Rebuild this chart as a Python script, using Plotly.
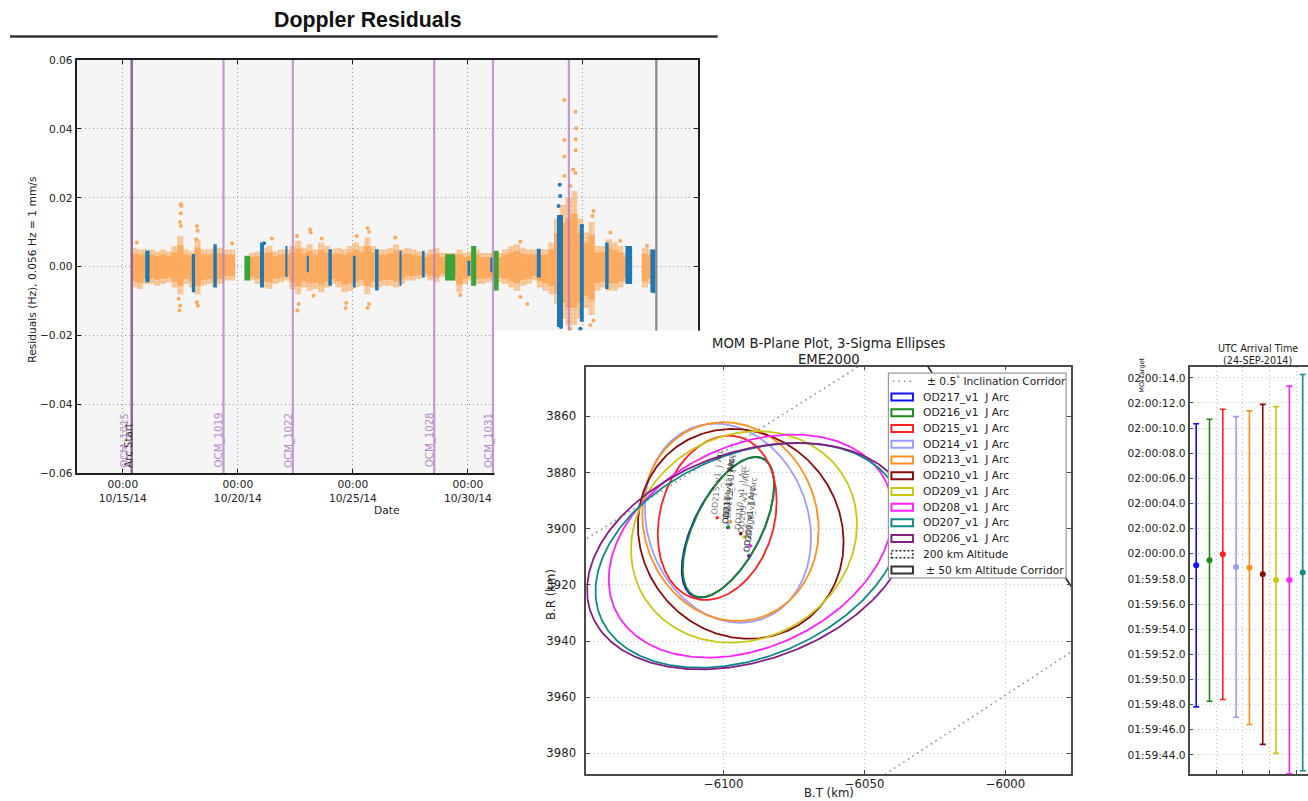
import numpy as np
import pandas as pd
import plotly.graph_objects as go

# Figure canvas and the layout grid used for every position below.
FIG_W, FIG_H = 1334, 807
GRID_SX, GRID_SY, GRID_OY = 0.981, 0.985, 6.0
FONT = "DejaVu Sans"


def fx(X):
    """Layout-grid x (px) -> paper fraction."""
    return X / GRID_SX / FIG_W


def fy(Y):
    """Layout-grid y (px, from the top) -> paper fraction."""
    return 1 - (Y - GRID_OY) / GRID_SY / FIG_H


def fs(size):
    """Font size on the layout grid -> figure font size."""
    return size / 0.983


# ====================== Doppler residuals ======================
EPOCH = pd.Timestamp("2014-10-13")
DAY_MS = 86400000

# Continuous tracking cloud: column centre (days after EPOCH), upper / lower extent (mHz)
orange_day = [2.50, 2.75, 3.00, 3.25, 3.50, 3.75, 4.00, 4.25, 4.50, 4.75, 5.00, 5.25,
              5.50, 5.75, 6.00, 6.25, 6.50, 6.75,
              7.625, 7.875, 8.125, 8.375, 8.625, 8.875, 9.125, 9.375, 9.625, 9.875,
              10.125, 10.375, 10.625, 10.875, 11.125, 11.375, 11.625, 11.875, 12.125,
              12.375, 12.625, 12.875, 13.125, 13.375, 13.625, 13.875, 14.125, 14.375,
              14.625, 14.875, 15.125, 15.375, 15.625, 15.875, 16.125, 16.375, 16.625,
              16.875, 17.125, 17.375, 17.625, 17.875, 18.125, 18.375, 18.625, 18.875,
              19.125, 19.375, 19.625, 19.875, 20.125, 20.375, 20.625, 20.875, 21.125,
              21.375, 21.625, 21.875, 22.125, 22.375, 22.625, 22.875, 23.125, 23.375,
              23.625, 23.875, 24.0, 24.69, 24.94]
orange_hi = [5.5, 5.0, 5.0, 5.0, 4.5, 5.0, 4.5, 6.0, 9.0, 5.0, 4.5, 8.0,
             5.0, 5.0, 5.5, 5.5, 5.0, 5.0,
             4.0, 4.5, 5.5, 6.0, 4.5, 5.0, 5.0, 6.0, 7.5, 5.5,
             6.5, 5.0, 7.0, 6.0, 5.0, 5.5, 5.0, 6.0, 7.0,
             6.0, 8.5, 6.0, 5.0, 5.0, 5.5, 6.5, 5.0, 5.5,
             5.0, 4.5, 4.0, 5.0, 5.5, 4.0, 4.0, 4.0, 5.0,
             4.0, 4.5, 5.0, 4.0, 4.0, 4.0, 4.0, 5.0, 6.0,
             6.5, 5.5, 5.0, 5.0, 5.0, 5.0, 7.0, 14.0, 18.0,
             20.0, 22.0, 14.0, 10.0, 13.0, 6.0, 6.0, 8.0, 7.0,
             6.0, 4.0, 4.0, 5.5, 5.0]
orange_lo = [-6.0, -6.5, -5.0, -5.0, -5.5, -5.0, -4.5, -6.0, -8.0, -5.0, -6.0, -8.0,
             -5.5, -5.0, -6.0, -5.0, -4.0, -4.0,
             -4.0, -5.0, -6.0, -6.5, -5.0, -4.5, -4.0, -6.5, -8.0, -6.0,
             -7.0, -6.5, -7.5, -6.0, -5.0, -6.0, -7.5, -7.0, -6.0,
             -5.5, -8.0, -6.0, -6.0, -5.5, -5.5, -6.0, -5.0, -4.0,
             -4.0, -3.5, -3.0, -4.0, -4.5, -3.0, -4.0, -4.0, -7.5,
             -5.0, -4.0, -5.0, -5.0, -4.5, -4.0, -4.5, -5.0, -6.0,
             -7.0, -5.5, -5.0, -4.0, -6.0, -7.0, -8.0, -11.0, -15.0,
             -17.0, -17.0, -15.0, -12.0, -14.0, -7.0, -6.0, -7.0, -7.0,
             -6.0, -4.5, -4.0, -6.0, -5.0]
ORANGE_COL = 0.25   # column spacing, days
CORE_FRAC = 0.7     # share of each column's spread drawn as the dense core

# Individual passes (blue / green): centre day, duration (days), upper / lower extent (mHz)
blue_day = [3.07, 5.07, 6.01, 8.05, 9.11, 10.04, 11.01, 12.06, 13.04, 14.07, 15.06,
            17.04, 18.03, 20.08, 21.00, 21.95, 23.04, 23.99, 25.04]
blue_dur = [0.19, 0.14, 0.15, 0.17, 0.09, 0.09, 0.15, 0.12, 0.15, 0.09, 0.12,
            0.12, 0.12, 0.17, 0.26, 0.17, 0.15, 0.29, 0.22]
blue_hi = [4.6, 3.7, 6.5, 7.0, 6.0, 3.2, 5.1, 3.2, 5.1, 4.6, 4.6,
           1.7, 2.7, 5.2, 15.0, 12.3, 7.0, 6.0, 5.0]
blue_lo = [-4.5, -7.4, -6.0, -6.0, -3.0, -1.6, -5.5, -6.0, -6.9, -5.5, -3.1,
           -2.6, -1.6, -3.1, -17.5, -16.0, -6.5, -5.0, -7.5]

green_day = [7.41, 16.23, 17.25, 18.23]
green_dur = [0.25, 0.44, 0.22, 0.21]
green_hi = [3.2, 3.6, 6.0, 4.6]
green_lo = [-4.0, -4.0, -5.5, -6.9]

# Isolated residual points (day, mHz)
orange_pt_day = [4.52, 4.55, 4.52, 4.49, 4.52, 4.46, 4.49, 4.43, 5.22, 5.25, 5.19, 5.26,
                 5.22, 2.61, 6.75, 9.57, 9.59, 9.64, 10.14, 10.17, 10.65, 10.29, 11.68,
                 11.71, 12.17, 12.64, 12.70, 12.64, 12.70, 13.84, 16.67, 8.48,
                 21.19, 21.68, 21.71, 21.19, 21.68, 21.19, 21.68, 21.57, 21.67, 21.19,
                 21.45, 22.46, 22.41, 22.32, 22.46, 21.45, 23.19, 23.62, 19.28, 19.28,
                 19.58, 24.78]
orange_pt_val = [18.1, 17.6, 15.5, 13.0, 11.8, -12.7, -11.3, -9.3, 11.8, 10.4, 8.0, -11.3,
                 -10.3, 7.0, 6.8, 8.9, -12.7, -10.8, 10.9, 9.9, 8.2, -8.4, -12.0,
                 -10.5, 8.9, 11.2, 10.1, -12.0, -10.8, 8.5, -8.2, 8.2,
                 48.4, 45.0, 40.2, 36.8, 37.0, 32.0, 33.8, 28.2, 27.2, 26.3,
                 23.4, 16.2, 14.7, -17.0, -15.6, -18.0, 9.9, 7.5, 7.3, -8.8,
                 -10.8, 6.1]
blue_pt_day = [20.99, 21.01, 20.94, 21.96, 21.04, 21.88, 25.07, 8.14]
blue_pt_val = [23.8, 20.5, 17.6, 11.8, -17.5, -18.0, -7.1, 6.8]

# Events marked on the residual plot
event_time = ["2014-10-15 09:20", "2014-10-15 09:20", "2014-10-19 09:00",
              "2014-10-22 09:20", "2014-10-28 12:50", "2014-10-31 02:05",
              "2014-11-03 09:20", "2014-11-07 04:30"]
event_label = ["Arc Start", "OCM_1015", "OCM_1019", "OCM_1022", "OCM_1028",
               "OCM_1031", "", ""]
event_kind = ["arc", "ocm", "ocm", "ocm", "ocm", "ocm", "ocm", "end"]

ORANGE = "#FBAA5E"
BLUE = "#1F77B4"
GREEN = "#3AA339"
OCM_COLOR = "rgba(180,120,200,0.75)"
OCM_TEXT = "#B88ACB"


def day_iso(days):
    return [(EPOCH + pd.Timedelta(days=float(d))).strftime("%Y-%m-%d %H:%M:%S") for d in days]


fig = go.Figure()


def add_band(day, dur, hi, lo, color, frac=1.0, marker_extra=None):
    marker = dict(color=color, line=dict(width=0))
    if marker_extra:
        marker.update(marker_extra)
    fig.add_trace(go.Bar(
        x=day_iso(day), base=[frac * v / 1000 for v in lo],
        y=[frac * (h - l) / 1000 for h, l in zip(hi, lo)],
        width=[d * DAY_MS for d in dur], marker=marker,
        xaxis="x", yaxis="y", hoverinfo="skip", showlegend=False))


col_w = [ORANGE_COL * 1.06] * len(orange_day)
# sparse outer part of the cloud (speckled), then the dense core
add_band(orange_day, col_w, orange_hi, orange_lo, "rgba(251,170,94,0.45)",
         marker_extra=dict(pattern=dict(shape=".", fgcolor=ORANGE, size=4, solidity=0.55,
                                        fillmode="overlay")))
add_band(orange_day, col_w, orange_hi, orange_lo, ORANGE, frac=CORE_FRAC)
fig.add_trace(go.Scatter(x=day_iso(orange_pt_day), y=[v / 1000 for v in orange_pt_val],
                         mode="markers", marker=dict(color=ORANGE, size=4),
                         xaxis="x", yaxis="y", hoverinfo="skip", showlegend=False))
add_band(green_day, green_dur, green_hi, green_lo, GREEN)
add_band(blue_day, blue_dur, blue_hi, blue_lo, BLUE)
fig.add_trace(go.Scatter(x=day_iso(blue_pt_day), y=[v / 1000 for v in blue_pt_val],
                         mode="markers", marker=dict(color=BLUE, size=4),
                         xaxis="x", yaxis="y", hoverinfo="skip", showlegend=False))

line_style = {"arc": dict(color="#2A2A2A", width=2),
              "ocm": dict(color=OCM_COLOR, width=2.2),
              "end": dict(color="#8A8A8A", width=2.2)}
for t, kind in zip(event_time, event_kind):
    fig.add_trace(go.Scatter(x=[t, t], y=[-0.06, 0.06], mode="lines", line=line_style[kind],
                             xaxis="x", yaxis="y", hoverinfo="skip", showlegend=False))

annotations = []
label_shift = {"Arc Start": -3, "OCM_1015": -7}
for t, lab, kind in zip(event_time, event_label, event_kind):
    if not lab:
        continue
    annotations.append(dict(
        x=t, y=-0.06, xref="x", yref="y", text=lab, showarrow=False, textangle=-90,
        xanchor="center", yanchor="bottom", xshift=label_shift.get(lab, -4), yshift=4,
        font=dict(family=FONT, size=fs(10), color="#222" if kind == "arc" else OCM_TEXT)))

# ====================== B-plane ellipses ======================
od_names = ["OD217_v1", "OD216_v1", "OD215_v1", "OD214_v1", "OD213_v1",
            "OD210_v1", "OD209_v1", "OD208_v1", "OD207_v1", "OD206_v1"]
od_colors = ["#1010FF", "#1A8A1A", "#FF2020", "#9C9CFF", "#FF8F1F",
             "#8B0A0A", "#C8C814", "#FF20FF", "#0E8A8A", "#841E84"]
center_bt = [-6098.5, -6098.3, -6102.3, -6098.5, -6097.6, -6093.95, -6092.8, -6090.4, -6091.0, -6091.0]
center_br = [3899.55, 3899.4, 3896.15, 3898.05, 3897.5, 3901.85, 3902.95, 3906.2, 3909.5, 3909.8]
half_bt = [16.4, 16.2, 21.1, 29.5, 31.3, 36.5, 40.1, 50.4, 54.5, 57.5]     # 3-sigma extent along B.T
half_br = [25.05, 25.0, 29.25, 35.45, 35.4, 37.35, 37.65, 39.7, 40.0, 40.3]  # 3-sigma extent along B.R
corr_bt_br = [-0.60, -0.60, -0.20, 0.15, 0.08, 0.08, -0.12, -0.30, -0.32, -0.30]

corridor_deg = [32.41, 33.42]          # +/- 0.5 deg inclination corridor lines through the origin
corridor_bt = [-6170.0, -5950.0]
alt_radius = [7048.0, 7098.0, 7148.0]  # lower corridor, 200 km altitude, upper corridor (km)
alt_dash = ["solid", "2px,3px", "solid"]
DOTTED = "1.5px,4px"

for ang in corridor_deg:
    fig.add_trace(go.Scatter(
        x=corridor_bt, y=[-np.tan(np.radians(ang)) * b for b in corridor_bt],
        mode="lines", line=dict(color="#8C8C8C", width=1.6, dash=DOTTED),
        xaxis="x3", yaxis="y3", hoverinfo="skip", showlegend=False))

arc_theta = np.radians(np.linspace(29.0, 37.0, 400))
for r, dash in zip(alt_radius, alt_dash):
    fig.add_trace(go.Scatter(
        x=-r * np.cos(arc_theta), y=r * np.sin(arc_theta), mode="lines",
        line=dict(color="#222", width=1.6, dash=dash),
        xaxis="x3", yaxis="y3", hoverinfo="skip", showlegend=False))

tt = np.linspace(0, 2 * np.pi, 361)
for cx, cy, hx, hy, rho, col in zip(center_bt, center_br, half_bt, half_br, corr_bt_br, od_colors):
    ex = cx + hx * np.cos(tt)
    ey = cy + hy * (rho * np.cos(tt) + np.sqrt(1 - rho ** 2) * np.sin(tt))
    fig.add_trace(go.Scatter(x=ex, y=ey, mode="lines", line=dict(color=col, width=1.8),
                             xaxis="x3", yaxis="y3", hoverinfo="skip", showlegend=False))

fig.add_trace(go.Scatter(x=center_bt, y=center_br, mode="markers",
                         marker=dict(color=od_colors, size=3.5),
                         xaxis="x3", yaxis="y3", hoverinfo="skip", showlegend=False))
for name, cx, cy in zip(od_names, center_bt, center_br):
    annotations.append(dict(
        x=cx, y=cy, xref="x3", yref="y3", text=name + "\u00a0 J Arc", showarrow=False,
        textangle=-85, xanchor="center", yanchor="bottom", yshift=1,
        font=dict(family=FONT, size=fs(8), color="rgba(30,30,30,0.65)")))

# ====================== UTC arrival time ======================
arrival_offset_s = [-0.92, -0.52, -0.05, -1.05, -1.11, -1.64, -2.09, -2.09, -1.50]  # vs 02:00:00
arrival_sigma_s = [11.27, 11.22, 11.55, 11.96, 12.48, 13.53, 13.80, 15.43, 15.77]
utc_tick_s = list(range(-16, 15, 2))


def hms(sec):
    total = 7200 + sec
    h = int(total // 3600)
    m = int((total - 3600 * h) // 60)
    s = total - 3600 * h - 60 * m
    return f"{h:02d}:{m:02d}:{s:04.1f}"


for i, (off, sig) in enumerate(zip(arrival_offset_s, arrival_sigma_s)):
    col = od_colors[i]
    fig.add_trace(go.Scatter(
        x=[i + 1], y=[off], mode="markers", marker=dict(color=col, size=6),
        error_y=dict(type="data", array=[sig], symmetric=True, color=col, thickness=1.6, width=3),
        xaxis="x4", yaxis="y4", hoverinfo="skip", showlegend=False))

# invisible anchor for the panel that frames the B-plane figure
fig.add_trace(go.Scatter(x=[0.5], y=[0.5], mode="markers", marker=dict(opacity=0),
                         xaxis="x2", yaxis="y2", hoverinfo="skip", showlegend=False))


# ====================== text ======================
def txt(x, y, s, size, color="#222", angle=0, xanchor="center", family=FONT):
    annotations.append(dict(x=fx(x), y=fy(y), xref="paper", yref="paper", text=s,
                            showarrow=False, textangle=angle, xanchor=xanchor,
                            yanchor="middle", font=dict(family=family, size=fs(size), color=color)))


txt(368, 20, "<b>Doppler Residuals</b>", 21, "#111", family="Liberation Sans")
txt(33, 270, "Residuals (Hz), 0.056 Hz = 1 mm/s", 10.5, angle=-90)
txt(387, 511.5, "Date", 10.5)
txt(828.5, 344, "MOM B-Plane Plot, 3-Sigma Ellipses", 13)
txt(828.5, 359.5, "EME2000", 13)
txt(828.5, 794, "B.T (km)", 11.5)
txt(551, 595, "B.R (km)", 11.5, angle=-90)
txt(1256.5, 348.5, "UTC Arrival Time", 9.5)
txt(1256.5, 360.5, "(24-SEP-2014)", 9.5)
txt(1140, 376, "MOI target", 6.5, angle=-90)

# B-plane legend
legend_labels = ["\u00b1 0.5<sup>\u00b0</sup> Inclination Corridor"] + \
                [n + "\u00a0 J Arc" for n in od_names] + \
                ["200 km Altitude", "\u00b1 50 km Altitude Corridor"]
shapes = [
    dict(type="line", xref="paper", yref="paper", x0=fx(10), x1=fx(717), y0=fy(36.5), y1=fy(36.5),
         line=dict(color="#333", width=2.5)),
    dict(type="rect", xref="x", yref="y", x0="2014-10-13", x1="2014-11-09", y0=-0.06, y1=0.06,
         layer="below", fillcolor="#F5F5F5", line=dict(width=0)),
    dict(type="rect", xref="paper", yref="paper", x0=fx(887.5), x1=fx(1065), y0=fy(373.5), y1=fy(578.5),
         fillcolor="white", line=dict(color="#999", width=1.2), layer="above"),
]
for k, lab in enumerate(legend_labels):
    yc = 381.7 + 15.75 * k
    if k == 0:
        shapes.append(dict(type="line", xref="paper", yref="paper", x0=fx(892), x1=fx(912),
                           y0=fy(yc), y1=fy(yc), line=dict(color="#8C8C8C", width=1.6, dash=DOTTED)))
        xt = 924
    else:
        if k <= len(od_names):
            ln = dict(color=od_colors[k - 1], width=2)
        elif k == len(od_names) + 1:
            ln = dict(color="#222", width=1.5, dash="2px,2px")
        else:
            ln = dict(color="#333", width=2)
        shapes.append(dict(type="rect", xref="paper", yref="paper", x0=fx(890.5), x1=fx(912),
                           y0=fy(yc + 3.5), y1=fy(yc - 3.5), line=ln, layer="above"))
        xt = 923 if k == len(legend_labels) - 1 else 920
    txt(xt, yc, lab, 10.5, "#222", xanchor="left")

# ====================== axes ======================
GRID_DASH = "1px,3px"
grid = dict(showgrid=True, gridcolor="#9A9A9A", griddash=GRID_DASH, gridwidth=1, zeroline=False)
frame = dict(showline=True, ticks="inside", ticklen=4)

fig.update_layout(
    width=FIG_W, height=FIG_H, autosize=False, margin=dict(l=0, r=0, t=0, b=0, pad=0),
    paper_bgcolor="white", plot_bgcolor="white", showlegend=False,
    barmode="overlay", hovermode=False, font=dict(family=FONT, color="#222"),
    annotations=annotations, shapes=shapes,
    xaxis=dict(domain=[fx(76.7), fx(697.3)], anchor="y", type="date",
               range=["2014-10-13", "2014-11-09"], tick0="2014-10-15", dtick=5 * DAY_MS,
               tickformat="%H:%M<br>%m/%d/%y", tickfont=dict(size=fs(10.5)),
               linecolor="#1E1E1E", linewidth=2, mirror="ticks", tickcolor="#1E1E1E",
               **grid, **frame),
    yaxis=dict(domain=[fy(474), fy(60)], anchor="x", range=[-0.06, 0.06], dtick=0.02,
               tickformat=".2f", tickfont=dict(size=fs(10.5)),
               linecolor="#1E1E1E", linewidth=2, mirror="ticks", tickcolor="#1E1E1E",
               **grid, **frame),
    xaxis2=dict(domain=[fx(494), fx(720)], anchor="y2", range=[0, 1], visible=False),
    yaxis2=dict(domain=[0, fy(331)], anchor="x2", range=[0, 1], visible=False),
    xaxis3=dict(domain=[fx(585.6), fx(1070)], anchor="y3", range=[-6148.8, -5976.7],
                tickvals=[-6100, -6050, -6000], tickfont=dict(size=fs(11.5)),
                linecolor="#4A4A4A", linewidth=1.5, mirror="ticks", tickcolor="#4A4A4A",
                gridcolor="#C4C4C4", showgrid=True, griddash=GRID_DASH, zeroline=False,
                ticklabelstandoff=-2, **frame),
    yaxis3=dict(domain=[fy(775), fy(367)], anchor="x3", range=[3987.4, 3842.3],
                tickvals=list(range(3860, 3981, 20)), tickfont=dict(size=fs(11.5)),
                linecolor="#4A4A4A", linewidth=1.5, mirror="ticks", tickcolor="#4A4A4A",
                gridcolor="#C4C4C4", showgrid=True, griddash=GRID_DASH, zeroline=False,
                ticklabelstandoff=6, **frame),
    xaxis4=dict(domain=[fx(1188.3), min(1.0, fx(1308))], anchor="y4", range=[0.5, 9.5],
                tickvals=[2.5, 4.5, 6.5, 8.5], showticklabels=False,
                linecolor="#4A4A4A", linewidth=1.5, mirror=True, tickcolor="#4A4A4A",
                gridcolor="#C4C4C4", showgrid=True, griddash=GRID_DASH, zeroline=False, **frame),
    yaxis4=dict(domain=[fy(775), fy(367.3)], anchor="x4", range=[-17.54, 14.87],
                tickvals=utc_tick_s, ticktext=[hms(s) for s in utc_tick_s],
                tickfont=dict(size=fs(10.5)), linecolor="#4A4A4A", linewidth=1.5,
                tickcolor="#4A4A4A", gridcolor="#C4C4C4", showgrid=True, griddash=GRID_DASH,
                zeroline=False, **frame),
)

fig.write_html("out.html", config={"displayModeBar": False})
